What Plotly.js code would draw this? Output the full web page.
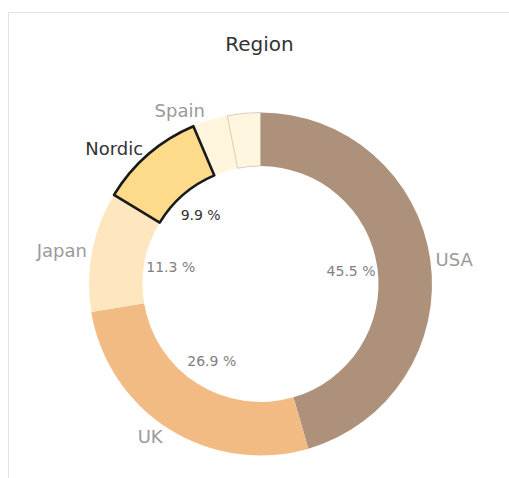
<!DOCTYPE html>
<html>
<head>
<meta charset="utf-8">
<script src="https://cdn.plot.ly/plotly-3.0.1.min.js"></script>
<style>html,body{margin:0;padding:0;background:#fff;}#chart{width:509px;height:478px;}</style>
</head>
<body>
<div id="chart"></div>
<script>
// Data
var regions = ['USA', 'UK', 'Japan', 'Nordic', 'Spain', 'Other'];
var shares = [45.5, 26.9, 11.3, 9.9, 3.3, 3.1];
var nameLabels = ['USA', 'UK', 'Japan', 'Nordic', 'Spain', ''];
var showPct = [true, true, true, true, false, false];
var selected = 'Nordic';

// Styles
var sliceColors = ['#ad917a', '#f2bb84', '#fee7bf', '#fddb8b', '#fef5dc', '#fff6e0'];
var W = 509, H = 478;
var cx = 260.5, cy = 284, R = 171.5, Rin = 118;
function dom(r) {
  return {
    x: [(cx - r) / W, (cx + r) / W],
    y: [(H - cy - r) / H, (H - cy + r) / H]
  };
}
var isSel = regions.map(function (r) { return r === selected; });
var labelColors = isSel.map(function (s) { return s ? '#333333' : '#9a9a9a'; });
var pctColors = isSel.map(function (s) { return s ? '#333333' : '#808080'; });

var ring = {
  type: 'pie',
  labels: regions,
  values: shares,
  sort: false,
  direction: 'clockwise',
  rotation: 0,
  hole: Rin / R,
  domain: dom(R),
  marker: {
    colors: sliceColors,
    line: { color: regions.map(function (r, i) { return i === 5 ? 'rgba(140,130,115,0.45)' : 'rgba(0,0,0,0)'; }),
            width: regions.map(function (r, i) { return i === 5 ? 0.8 : 0; }) }
  },
  text: nameLabels,
  textinfo: 'text',
  texttemplate: nameLabels.map(function (t) { return t ? '%{text}' : ''; }),
  textposition: 'outside',
  outsidetextfont: { family: 'DejaVu Sans', size: 18, color: labelColors },
  hoverinfo: 'none',
  showlegend: false
};

var outline = {
  type: 'pie',
  labels: regions,
  values: shares,
  sort: false,
  direction: 'clockwise',
  rotation: 0,
  hole: Rin / R,
  domain: dom(R),
  marker: {
    colors: regions.map(function () { return 'rgba(0,0,0,0)'; }),
    line: { color: '#1a1a1a', width: isSel.map(function (s) { return s ? 2.6 : 0; }) }
  },
  textinfo: 'none',
  hoverinfo: 'none',
  showlegend: false
};

var pct = {
  type: 'pie',
  labels: regions,
  values: shares,
  sort: false,
  direction: 'clockwise',
  rotation: 0,
  hole: 0.55,
  domain: dom(Rin),
  marker: {
    colors: regions.map(function () { return 'rgba(0,0,0,0)'; }),
    line: { width: 0 }
  },
  texttemplate: showPct.map(function (s) { return s ? '%{value:.1f} %' : ''; }),
  textposition: 'inside',
  insidetextorientation: 'horizontal',
  insidetextfont: { family: 'DejaVu Sans', size: 14, color: pctColors },
  hoverinfo: 'none',
  showlegend: false
};

var layout = {
  width: W,
  height: H,
  margin: { l: 0, r: 0, t: 0, b: 0 },
  paper_bgcolor: '#ffffff',
  plot_bgcolor: '#ffffff',
  title: {
    text: 'Region',
    font: { family: 'DejaVu Sans', size: 20, color: '#333333' },
    x: 259.5 / W, xref: 'container', xanchor: 'center',
    y: 1 - 44 / H, yref: 'container', yanchor: 'middle'
  },
  shapes: [{
    type: 'rect', xref: 'paper', yref: 'paper', layer: 'below',
    x0: 8.5 / W, x1: 1.2, y0: -0.2, y1: 1 - 12.5 / H,
    line: { color: '#e3e3e3', width: 1 }, fillcolor: 'rgba(0,0,0,0)'
  }]
};

Plotly.newPlot('chart', [ring, outline, pct], layout, { displayModeBar: false, staticPlot: true });
</script>
</body>
</html>
